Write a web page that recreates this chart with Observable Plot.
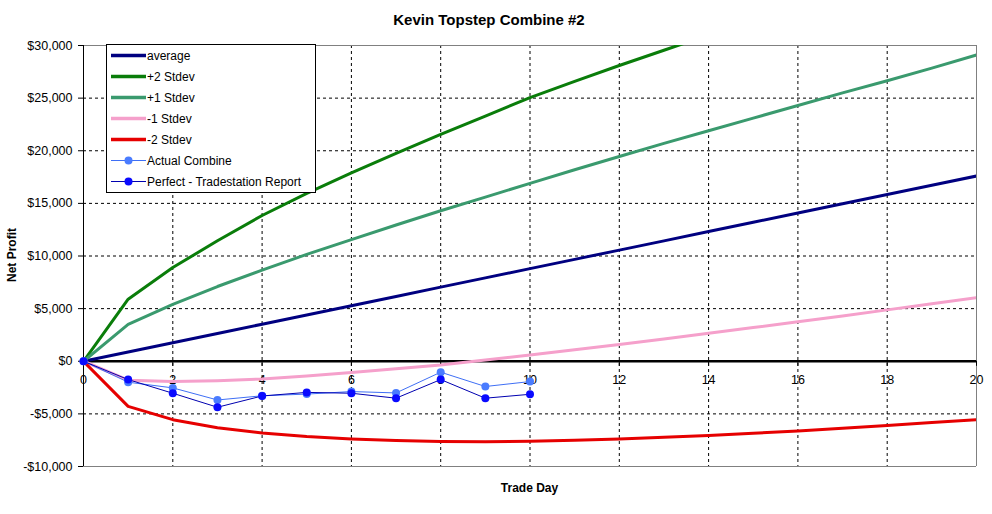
<!DOCTYPE html>
<html>
<head>
<meta charset="utf-8">
<script src="https://cdn.jsdelivr.net/npm/d3@7"></script>
<script src="https://cdn.jsdelivr.net/npm/@observablehq/plot@0.6"></script>
<style>
  html, body { margin: 0; padding: 0; background: #fff; }
  #wrap { position: relative; width: 992px; height: 514px; font-family: "Liberation Sans", Arial, sans-serif; color: #000; }
  #title { position: absolute; left: 0; width: 978px; top: 11px; text-align: center; font-weight: bold; font-size: 15px; }
  #xlabel { position: absolute; left: 83px; width: 893px; top: 481px; text-align: center; font-weight: bold; font-size: 12px; }
  #ylabel { position: absolute; left: 12px; top: 255px; transform: translate(-50%, -50%) rotate(-90deg); font-weight: bold; font-size: 12px; white-space: nowrap; }
  #legend { position: absolute; left: 106px; top: 44px; width: 208px; border: 1px solid #000; background: #fff; font-size: 12px; }
  .row { height: 21px; display: flex; align-items: center; white-space: nowrap; }
  .row svg { margin-left: 4px; margin-right: 1px; }
</style>
</head>
<body>
<div id="wrap">
  <div id="chart"></div>
  <div id="title">Kevin Topstep Combine #2</div>
  <div id="ylabel">Net Profit</div>
  <div id="xlabel">Trade Day</div>
  <div id="legend"></div>
</div>
<script>
const days = [0,1,2,3,4,5,6,7,8,9,10,11,12,13,14,15,16,17,18,19,20];
const average = [0,880,1760,2640,3520,4400,5280,6160,7040,7920,8800,9680,10560,11440,12320,13200,14080,14960,15840,16720,17600];
const plus2 = [0,5900,8900,11450,13850,15950,17900,19750,21550,23300,25050,26600,28100,29550,31000,32450,33900,35350,36800,38250,39700];
const plus1 = [0,3500,5400,7100,8650,10150,11550,12950,14300,15600,16900,18200,19450,20700,21900,23100,24300,25500,26650,27850,29100];
const minus1 = [0,-1800,-1930,-1850,-1680,-1400,-1070,-720,-350,120,600,1100,1600,2120,2650,3200,3750,4300,4880,5460,6050];
const minus2 = [0,-4290,-5550,-6310,-6810,-7150,-7380,-7520,-7620,-7650,-7600,-7500,-7380,-7220,-7050,-6850,-6620,-6370,-6100,-5830,-5550];
const actualDays = [0,1,2,3,4,5,6,7,8,9,10];
const actual = [0,-1990,-2530,-3680,-3280,-3120,-2880,-3010,-1040,-2400,-1930];
const perfect = [0,-1740,-3040,-4370,-3300,-2960,-3040,-3510,-1740,-3510,-3140];
const yTicks = [-10000,-5000,0,5000,10000,15000,20000,25000,30000];
const xTicks = [0,2,4,6,8,10,12,14,16,18,20];

const series = [
  {name: "average", values: average, color: "#000080"},
  {name: "+2 Stdev", values: plus2, color: "#0a7d0a"},
  {name: "+1 Stdev", values: plus1, color: "#3a9a6e"},
  {name: "-1 Stdev", values: minus1, color: "#f5a0cb"},
  {name: "-2 Stdev", values: minus2, color: "#e60000"}
];
const markerSeries = [
  {name: "Actual Combine", values: actual, color: "#3f6ff5", dot: "#4a7cff"},
  {name: "Perfect - Tradestation Report", values: perfect, color: "#0000b0", dot: "#0a0aff"}
];

const lineData = series.flatMap(s => days.map((d, i) => ({day: d, v: s.values[i], name: s.name})));
const markData = markerSeries.flatMap(s => actualDays.map((d, i) => ({day: d, v: s.values[i], name: s.name})));
const colorOf = Object.fromEntries([...series, ...markerSeries].map(s => [s.name, s.color]));
const dotOf = Object.fromEntries(markerSeries.map(s => [s.name, s.dot]));

const fmt = d3.format(",");
const money = d => d < 0 ? "-$" + fmt(-d) : "$" + fmt(d);

const chart = Plot.plot({
  width: 992,
  height: 514,
  marginLeft: 83,
  marginRight: 16,
  marginTop: 45,
  marginBottom: 48,
  style: {fontFamily: "'Liberation Sans', Arial, sans-serif", fontSize: "12px", color: "#000", background: "#fff"},
  x: {domain: [0, 20], axis: null},
  y: {domain: [-10000, 30000], axis: null},
  marks: [
    Plot.ruleY(yTicks.filter(t => t !== 0 && t !== 30000 && t !== -10000), {stroke: "#000", strokeDasharray: "3,3", strokeWidth: 1}),
    Plot.ruleX(xTicks.filter(t => t !== 0 && t !== 20), {stroke: "#000", strokeDasharray: "3,3", strokeWidth: 1}),
    Plot.ruleY([30000, -10000], {stroke: "#808080", strokeWidth: 1}),
    Plot.ruleX([20], {stroke: "#808080", strokeWidth: 1}),
    Plot.ruleX([0], {stroke: "#000", strokeWidth: 1}),
    Plot.axisY({ticks: yTicks, tickFormat: money, tickSize: 5, tickPadding: 6, fontSize: 12.5, stroke: "#000", fill: "#000", label: null}),
    Plot.ruleY([0], {stroke: "#000", strokeWidth: 2.5}),
    Plot.ruleX(xTicks, {x: d => d, y1: 0, y2: -480, stroke: "#000", strokeWidth: 1}),
    Plot.text(xTicks, {x: d => d, y: 0, dy: 19, text: d => String(d), fill: "#000", fontSize: 12.5}),
    Plot.line(lineData, {x: "day", y: "v", z: "name", stroke: d => colorOf[d.name], strokeWidth: 3, clip: true}),
    Plot.line(markData, {x: "day", y: "v", z: "name", stroke: d => colorOf[d.name], strokeWidth: 1}),
    Plot.dot(markData, {x: "day", y: "v", r: 4, fill: d => dotOf[d.name], stroke: "none"})
  ]
});
document.getElementById("chart").appendChild(chart);

const legend = document.getElementById("legend");
for (const s of series) {
  const row = document.createElement("div");
  row.className = "row";
  row.innerHTML = `<svg width="35" height="21"><line x1="0" x2="35" y1="10.5" y2="10.5" stroke="${s.color}" stroke-width="3.5"/></svg><span>${s.name}</span>`;
  legend.appendChild(row);
}
for (const s of markerSeries) {
  const row = document.createElement("div");
  row.className = "row";
  row.innerHTML = `<svg width="35" height="21"><line x1="0" x2="35" y1="10.5" y2="10.5" stroke="${s.color}" stroke-width="1"/><circle cx="17.5" cy="10.5" r="4" fill="${s.dot}"/></svg><span>${s.name}</span>`;
  legend.appendChild(row);
}
</script>
</body>
</html>
